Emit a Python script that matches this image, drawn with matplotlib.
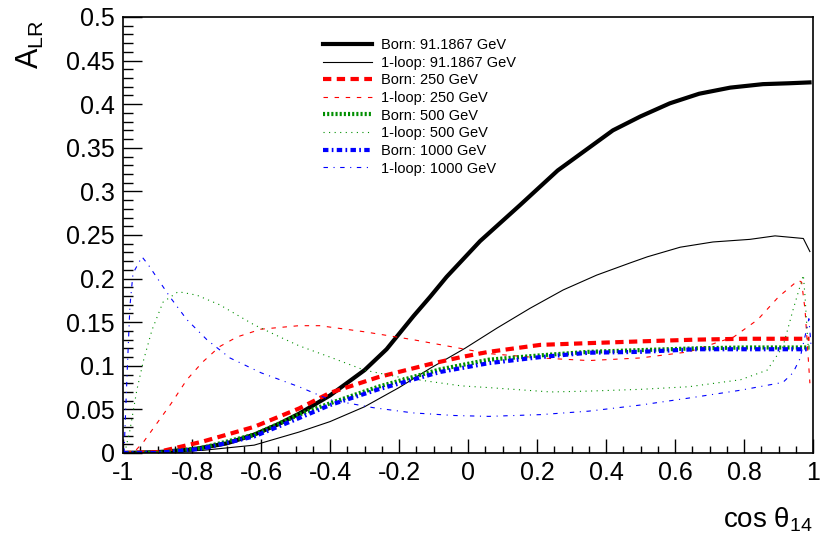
import matplotlib
matplotlib.use('Agg')
import matplotlib.pyplot as plt
from matplotlib.ticker import MultipleLocator, FuncFormatter

plt.rcParams['font.family'] = ['Liberation Sans', 'DejaVu Sans']
plt.rcParams['mathtext.fontset'] = 'custom'
plt.rcParams['mathtext.rm'] = 'Liberation Sans'
plt.rcParams['mathtext.it'] = 'Liberation Sans:italic'

# Born, sqrt(s) = 91.1867 GeV
x_born_91 = [-1, -0.9, -0.8, -0.7, -0.62, -0.55, -0.49, -0.4, -0.3, -0.236, -0.158, -0.11, -0.062,
             0.035, 0.15, 0.26, 0.42, 0.5, 0.585, 0.67, 0.76, 0.855, 0.93, 0.99]
y_born_91 = [0, 0.001, 0.004, 0.011, 0.021, 0.033, 0.045, 0.066, 0.095, 0.119, 0.157, 0.179, 0.202,
             0.243, 0.284, 0.324, 0.370, 0.386, 0.401, 0.412, 0.419, 0.423, 0.424, 0.425]

# 1-loop, 91.1867 GeV
x_loop_91 = [-1, -0.77, -0.62, -0.49, -0.4, -0.3, -0.2, -0.11, -0.009, 0.083, 0.18, 0.276, 0.373, 0.47,
             0.52, 0.615, 0.71, 0.817, 0.89, 0.972, 0.991]
y_loop_91 = [0, 0.003, 0.009, 0.024, 0.036, 0.053, 0.075, 0.097, 0.120, 0.143, 0.166, 0.187, 0.204, 0.218,
             0.225, 0.236, 0.242, 0.245, 0.249, 0.246, 0.231]

# Born, 250 GeV
x_born_250 = [-1, -0.9, -0.77, -0.62, -0.49, -0.4, -0.26, -0.11, -0.02, 0.06, 0.21, 0.35, 0.5, 0.66, 0.8, 0.99]
y_born_250 = [0, 0.001, 0.013, 0.030, 0.051, 0.069, 0.087, 0.102, 0.110, 0.116, 0.124, 0.126, 0.128, 0.130,
              0.131, 0.131]

# 1-loop, 250 GeV
x_loop_250 = [-0.99, -0.97, -0.94, -0.86, -0.815, -0.77, -0.72, -0.67, -0.6, -0.49, -0.43, -0.3, -0.16,
              -0.05, 0.06, 0.21, 0.35, 0.5, 0.64, 0.77, 0.84, 0.9, 0.957, 0.967, 0.977, 0.984, 0.991]
y_loop_250 = [0, 0.0, 0.013, 0.057, 0.084, 0.104, 0.122, 0.133, 0.142, 0.146, 0.146, 0.139, 0.130,
              0.122, 0.114, 0.109, 0.106, 0.109, 0.116, 0.133, 0.153, 0.179, 0.198, 0.196, 0.164, 0.122, 0.080]

# Born, 500 GeV
x_born_500 = [-1, -0.9, -0.77, -0.62, -0.49, -0.4, -0.26, -0.08, 0.06, 0.21, 0.35, 0.5, 0.66, 0.8, 0.99]
y_born_500 = [0, 0.0, 0.006, 0.021, 0.044, 0.057, 0.076, 0.096, 0.107, 0.112, 0.116, 0.118, 0.120, 0.121, 0.121]

# 1-loop, 500 GeV
x_loop_500 = [-0.995, -0.98, -0.96, -0.94, -0.916, -0.884, -0.84, -0.786, -0.72, -0.62, -0.545, -0.49, -0.4,
              -0.3, -0.2, -0.11, -0.02, 0.06, 0.24, 0.35, 0.5, 0.64, 0.79, 0.867, 0.913, 0.942, 0.972,
              0.977, 0.981, 0.986]
y_loop_500 = [0, 0.026, 0.072, 0.107, 0.141, 0.173, 0.185, 0.181, 0.170, 0.147, 0.133, 0.123, 0.110,
              0.095, 0.087, 0.082, 0.077, 0.075, 0.070, 0.071, 0.073, 0.076, 0.084, 0.095, 0.122, 0.164, 0.204,
              0.179, 0.153, 0.122]

# Born, 1000 GeV
x_born_1000 = [-1, -0.9, -0.77, -0.62, -0.49, -0.4, -0.26, -0.08, 0.06, 0.21, 0.35, 0.5, 0.66, 0.8, 0.99]
y_born_1000 = [0, 0.0, 0.005, 0.019, 0.040, 0.055, 0.073, 0.093, 0.103, 0.110, 0.115, 0.116, 0.119, 0.119, 0.119]

# 1-loop, 1000 GeV
x_loop_1000 = [-0.997, -0.988, -0.98, -0.971, -0.945, -0.927, -0.893, -0.864, -0.815, -0.757, -0.69, -0.6,
               -0.49, -0.4, -0.275, -0.16, -0.04, 0.06, 0.21, 0.35, 0.5, 0.64, 0.79, 0.913, 0.942, 0.962,
               0.981, 0.988, 0.995]
y_loop_1000 = [0, 0.092, 0.168, 0.206, 0.225, 0.216, 0.196, 0.179, 0.153, 0.130, 0.109, 0.092,
               0.076, 0.061, 0.052, 0.046, 0.043, 0.042, 0.044, 0.048, 0.055, 0.063, 0.072, 0.081, 0.092, 0.108,
               0.141, 0.154, 0.120]

green = '#008f00'

fig = plt.figure(figsize=(8.22, 5.36), dpi=100)
ax = fig.add_axes([123 / 822, 1 - 453 / 536, 690 / 822, 436 / 536])

ax.plot(x_born_91, y_born_91, color='black', lw=3.0, label='Born: 91.1867 GeV')
ax.plot(x_loop_91, y_loop_91, color='black', lw=0.8, label='1-loop: 91.1867 GeV')
ax.plot(x_born_250, y_born_250, color='red', lw=3.0, dashes=(2, 1.3), label='Born: 250 GeV')
ax.plot(x_loop_250, y_loop_250, color='red', lw=0.8, dashes=(4, 6), label='1-loop: 250 GeV')
ax.plot(x_born_500, y_born_500, color=green, lw=3.0, dashes=(0.5, 0.5), label='Born: 500 GeV')
ax.plot(x_loop_500, y_loop_500, color=green, lw=0.8, dashes=(1, 4), label='1-loop: 500 GeV')
ax.plot(x_born_1000, y_born_1000, color='blue', lw=3.0, dashes=(1.3, 0.8, 0.4, 0.8), label='Born: 1000 GeV')
ax.plot(x_loop_1000, y_loop_1000, color='blue', lw=0.8, dashes=(4, 5, 1, 5), label='1-loop: 1000 GeV')

ax.set_xlim(-1, 1)
ax.set_ylim(0, 0.5)
ax.xaxis.set_major_locator(MultipleLocator(0.2))
ax.xaxis.set_minor_locator(MultipleLocator(0.05))
ax.yaxis.set_major_locator(MultipleLocator(0.05))
ax.yaxis.set_minor_locator(MultipleLocator(0.01))
fmt = FuncFormatter(lambda v, p: '%g' % round(v, 3))
ax.xaxis.set_major_formatter(fmt)
ax.yaxis.set_major_formatter(fmt)
ax.tick_params(axis='both', which='both', direction='in', top=False, right=False,
               labelsize=18, width=1)
ax.tick_params(axis='x', which='major', length=10, pad=6)
ax.tick_params(axis='x', which='minor', length=5)
ax.tick_params(axis='y', which='major', length=14, pad=6)
ax.tick_params(axis='y', which='minor', length=7)
for s in ax.spines.values():
    s.set_linewidth(1.2)

fig.text(30 / 822, 1 - 45 / 536, r'$\mathrm{A_{LR}}$', rotation=90, fontsize=22,
         ha='center', va='center')
fig.text(813 / 822, 1 - 528 / 536, r'cos $\mathrm{\theta_{14}}$', fontsize=20,
         ha='right', va='baseline')

ax.legend(loc='upper left', bbox_to_anchor=(323 / 822, 1 - 38 / 536), bbox_transform=fig.transFigure,
          frameon=False, fontsize=10.5, borderpad=0, borderaxespad=0, labelspacing=0.25,
          handlelength=3.35, handletextpad=0.6)

fig.savefig('out.png', dpi=100)
